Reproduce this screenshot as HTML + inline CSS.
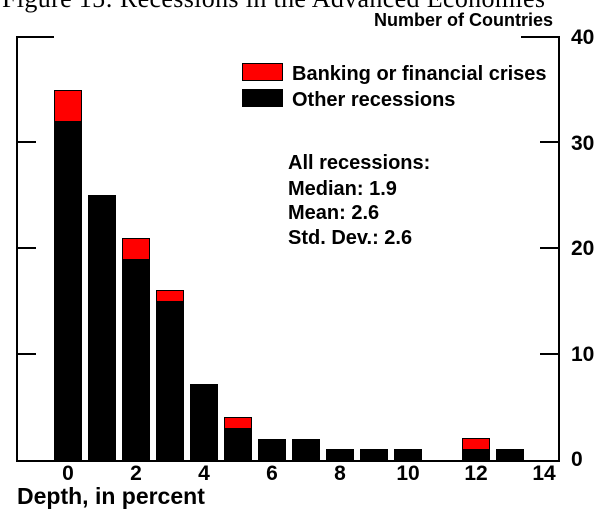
<!DOCTYPE html>
<html><head><style>body{margin:0;background:#fff}svg text{font-family:"Liberation Sans",Arial,sans-serif;font-weight:bold}</style></head><body>
<svg width="600" height="520" xmlns="http://www.w3.org/2000/svg">
<text x="2" y="7" style="font-family:'Liberation Serif',serif;font-weight:normal" font-size="26" textLength="543">Figure 15: Recessions in the Advanced Economies</text>
<text x="553" y="26" font-size="18" text-anchor="end">Number of Countries</text>
<g stroke="#000" stroke-width="2" fill="none">
<path d="M54 37 H17 V461 H559 V37 H521"/>
<path d="M17 354 H36 M17 248 H36 M17 142 H36 M559 354 H540 M559 248 H540 M559 142 H540"/>
</g>
<g fill="#000">
<rect x="54" y="121" width="28" height="339"/>
<rect x="88" y="195" width="28" height="265"/>
<rect x="122" y="259" width="28" height="201"/>
<rect x="156" y="301" width="28" height="159"/>
<rect x="190" y="384" width="28" height="76"/>
<rect x="224" y="428" width="28" height="32"/>
<rect x="258" y="439" width="28" height="21"/>
<rect x="292" y="439" width="28" height="21"/>
<rect x="326" y="449" width="28" height="11"/>
<rect x="360" y="449" width="28" height="11"/>
<rect x="394" y="449" width="28" height="11"/>
<rect x="462" y="449" width="28" height="11"/>
<rect x="496" y="449" width="28" height="11"/>
</g>
<g fill="#f00" stroke="#000" stroke-width="1">
<rect x="54.5" y="90.5" width="27" height="31"/>
<rect x="122.5" y="238.5" width="27" height="21"/>
<rect x="156.5" y="290.5" width="27" height="11"/>
<rect x="224.5" y="417.5" width="27" height="11"/>
<rect x="462.5" y="438.5" width="27" height="11"/>
</g>
<rect x="242.5" y="63.5" width="40" height="17" fill="#f00" stroke="#000"/>
<rect x="242" y="89" width="41" height="18" fill="#000"/>
<g font-size="20">
<text x="292" y="80">Banking or financial crises</text>
<text x="292" y="106">Other recessions</text>
</g>
<g font-size="20">
<text x="288" y="169">All recessions:</text>
<text x="288" y="195">Median: 1.9</text>
<text x="288" y="219">Mean: 2.6</text>
<text x="288" y="244">Std. Dev.: 2.6</text>
</g>
<g font-size="21">
<text x="571" y="44">40</text>
<text x="571" y="150">30</text>
<text x="571" y="255">20</text>
<text x="571" y="361">10</text>
<text x="571" y="466">0</text>
</g>
<g font-size="21" text-anchor="middle">
<text x="68" y="480">0</text><text x="136" y="480">2</text><text x="204" y="480">4</text><text x="272" y="480">6</text><text x="340" y="480">8</text><text x="408" y="480">10</text><text x="476" y="480">12</text><text x="544" y="480">14</text>
</g>
<text x="17" y="504" font-size="23">Depth, in percent</text>
</svg>
</body></html>
